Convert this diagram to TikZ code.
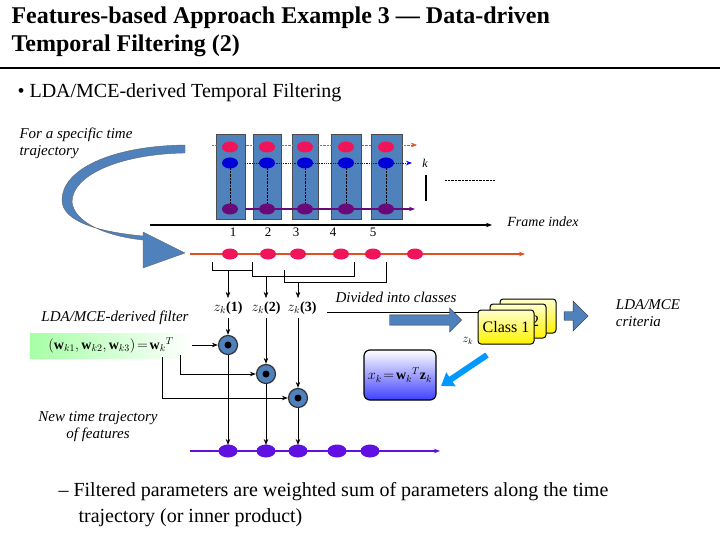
\documentclass[tikz,border=0pt]{standalone}
\usepackage{fontspec}
\setmainfont{LiberationSerif}[Extension=.ttf,UprightFont=*-Regular,BoldFont=*-Bold,ItalicFont=*-Italic,BoldItalicFont=*-BoldItalic]
\usetikzlibrary{arrows.meta,shapes.arrows,shapes.geometric}
\definecolor{steel}{HTML}{4F81BD}
\definecolor{rd}{HTML}{F0145A}
\definecolor{org}{HTML}{E05020}
\definecolor{pur}{HTML}{6A0A7A}
\definecolor{vio}{HTML}{6010E0}
\begin{document}
\begin{tikzpicture}[x=1pt,y=-1pt,
 fr/.style={draw=black!70,fill=steel},
 el/.style={draw=none,ellipse,minimum width=16pt,minimum height=11pt,inner sep=0},
 mul/.style={circle,draw=black!80,line width=1.2pt,fill=steel,minimum size=19pt,inner sep=0},
 it/.style={font=\fontsize{15}{17}\selectfont\itshape,align=left},
 cls/.style={draw=black,line width=1pt,rounded corners=3pt,top color=yellow!20,bottom color=yellow!90!orange,minimum width=56pt,minimum height=34pt,font=\fontsize{16}{18}\selectfont},
 ar/.style={-{Stealth[length=6pt]}}]
\useasboundingbox (0,0) rectangle (720,540);
\node[anchor=west,font=\fontsize{24}{28}\selectfont\bfseries,align=left] (t) at (8,32) {Features-based Approach Example 3 — Data-driven\\Temporal Filtering (2)};
\draw[line width=2pt] (0,68) -- (720,68);
\node[anchor=west,font=\fontsize{20}{24}\selectfont] (b) at (14,93) {• LDA/MCE-derived Temporal Filtering};
\node[it,anchor=west] (spec) at (16,143) {For a specific time\\trajectory};
% curved arrow
\fill[steel,draw=black!60] (185,145) -- (185,153) .. controls (120,154) and (72,175) .. (72,202) .. controls (74,222) and (105,236) .. (143,240) -- (143,268) -- (185,253) -- (143,232) -- (143,236) .. controls (100,232) and (62,222) .. (62,200) .. controls (62,170) and (110,146) .. (185,145) -- cycle;
% frames
\foreach \a/\b/\c [count=\i] in {216/245/230, 253/281/267, 292/318/305, 331/361/346, 371/402/386}{
  \draw[fr] (\a,134) rectangle (\b,219);
  \draw[densely dotted] (\c,168) -- (\c,204);
}
\draw[org,densely dotted,ar] (212,145) -- (417,145);
\draw[blue,densely dotted,ar,line width=0.8pt] (245,163) -- (412,163);
\draw[pur,ar,line width=1.2pt] (245,209) -- (415,209);
\foreach \c in {230,267,305,346,386}{
  \node[el,fill=rd] at (\c,147) {};
  \node[el,fill=blue!85!black] at (\c,163) {};
  \node[el,fill=pur] at (\c,209) {};
}
\node[it,font=\fontsize{12}{14}\selectfont\itshape] (k) at (425,163) {k};
\draw[line width=1.2pt] (426,175) -- (426,201);
\draw[densely dotted] (445,180) -- (495,180);
\draw[line width=1.5pt,ar] (150,225) -- (492,225);
\node[it,font=\fontsize{14}{16}\selectfont\itshape] (fi) at (543,222) {Frame index};
\foreach \x/\n in {233/1,268/2,296/3,333/4,373/5} \node[font=\fontsize{13}{15}\selectfont] at (\x,232) {\n};
% trajectory
\draw[org,line width=1.2pt,ar] (190,254) -- (525,254);
\foreach \c in {230,268,298,341,373,415} \node[el,fill=rd] at (\c,254) {};
% brackets
\draw[line width=1pt] (212,262) |- (252,270) -- (252,262);
\draw[line width=1pt] (252,262) |- (354,276) -- (354,262);
\draw[line width=1pt] (284,270) |- (386,282) -- (386,262);
\draw[ar] (228,270) -- (228,298);
\draw[ar] (266,276) -- (266,298);
\draw[ar] (298,282) -- (298,298);
\node[font=\fontsize{14}{16}\selectfont] (z1) at (228,308) {$z_k$\textbf{(1)}};
\node[font=\fontsize{14}{16}\selectfont] (z2) at (266,308) {$z_k$\textbf{(2)}};
\node[font=\fontsize{14}{16}\selectfont] (z3) at (302,308) {$z_k$\textbf{(3)}};
\node[it,anchor=west,font=\fontsize{15}{17}\selectfont\itshape] (dc) at (332,297) {Divided into classes};
\draw[line width=1pt] (327,312) -- (500,312);
\node[single arrow,draw=black!80,fill=steel,minimum height=72pt,minimum width=24pt,single arrow head extend=3pt,inner sep=2pt] (ba) at (423,320) {};
% classes
\node[cls] (c3) at (528,316) {};
\node[cls] (c2) at (518,321) {\hspace*{34pt}2};
\node[cls] (c1) at (506,327) {Class 1};
\node[font=\fontsize{12}{14}\selectfont] (zk) at (468,341) {$z_k$};
\node[single arrow,draw=black!80,fill=steel,minimum height=24pt,minimum width=30pt,single arrow head extend=3pt,inner sep=1pt] (ba2) at (574,316) {};
\node[it,font=\fontsize{15}{17}\selectfont\itshape] (crit) at (648,313) {LDA/MCE\\criteria};
\node[draw=black,line width=1.2pt,rounded corners=6pt,top color=white,bottom color=blue!75,minimum width=72pt,minimum height=50pt,font=\fontsize{14}{16}\selectfont] (fx) at (400,375) {$x_k\!=\!\mathbf{w}_k{}^T\mathbf{z}_k$};
\draw[-{Triangle[length=12pt,width=16pt]},line width=6pt,blue!40!cyan] (487,355) -- (441,386);
% filter
\node[it,font=\fontsize{15}{17}\selectfont\itshape] (lf) at (115,318) {LDA/MCE-derived filter};
\shade[left color=green!35,right color=white] (30,333) rectangle (192,358);
\node[font=\fontsize{14}{16}\selectfont] (w) at (111,345) {$(\mathbf{w}_{k1}, \mathbf{w}_{k2}, \mathbf{w}_{k3})\!=\!\mathbf{w}_k{}^T$};
\node[mul] (m1) at (228,345) {};
\node[mul] (m2) at (266,374) {};
\node[mul] (m3) at (298,398) {};
\foreach \m in {m1,m2,m3} \fill (\m) circle (3.5pt);
\draw[ar,line width=1pt] (192,345) -- (m1);
\draw[ar,line width=1pt] (180,355) |- (m2);
\draw[ar,line width=1pt] (162,357) |- (m3);
\draw[ar,line width=1pt] (z1) -- (m1);
\draw[ar,line width=1pt] (z2) -- (m2);
\draw[ar,line width=1pt] (z3.south -| m3) -- (m3);
\draw[vio,line width=1.5pt,ar] (190,451) -- (440,451);
\foreach \c in {228,266,298,337,370} \node[el,fill=vio,minimum width=19pt,minimum height=13pt] at (\c,451) {};
\draw[ar,line width=1pt] (m1) -- (228,445);
\draw[ar,line width=1pt] (m2) -- (266,445);
\draw[ar,line width=1pt] (m3) -- (298,445);
\node[it,font=\fontsize{15}{17}\selectfont\itshape,align=center] (nt) at (98,427) {New time trajectory\\of features};
\node[anchor=west,font=\fontsize{20}{26}\selectfont,align=left] (bt) at (55,505) {– Filtered parameters are weighted sum of parameters along the time\\\hspace*{20pt}trajectory (or inner product)};
\end{tikzpicture}
\end{document}
